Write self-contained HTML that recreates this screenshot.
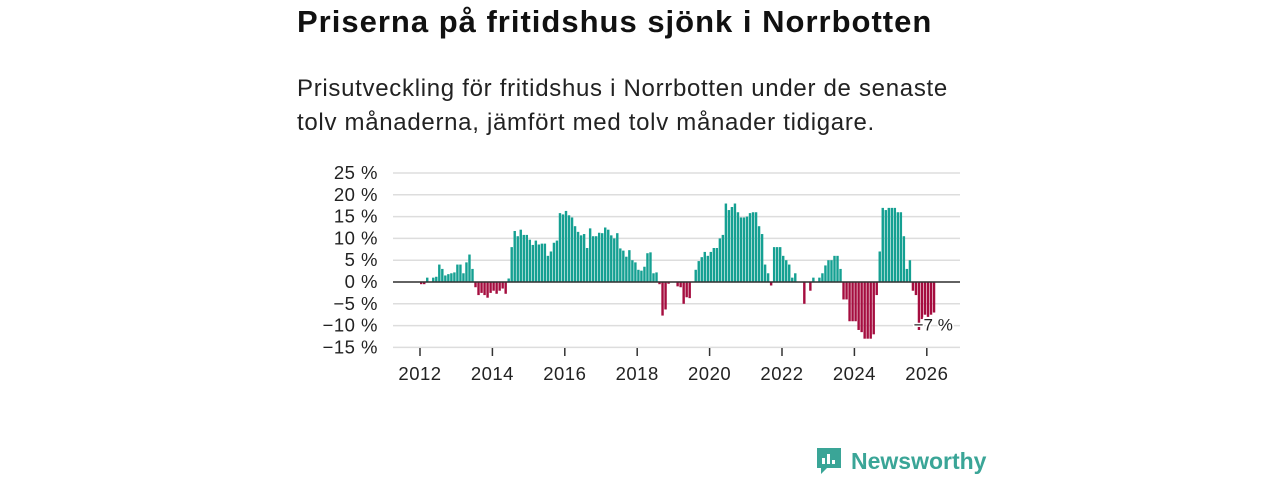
<!DOCTYPE html>
<html><head><meta charset="utf-8"><style>
body{margin:0;width:1280px;height:480px;background:#fff;font-family:"Liberation Sans",sans-serif;overflow:hidden;position:relative}
h1{position:absolute;left:297px;top:4px;margin:0;font-size:31px;letter-spacing:1px;font-weight:bold;color:#111;white-space:nowrap}
p.sub{position:absolute;left:297px;top:72px;margin:0;font-size:24px;letter-spacing:0.7px;line-height:34px;color:#222;width:700px}
svg{position:absolute;left:0;top:0}
.logo{position:absolute;left:815px;top:446px;display:flex;align-items:center;gap:8px;color:#3aa597;font-size:23px;font-weight:bold}
</style></head><body>
<h1>Priserna på fritidshus sjönk i Norrbotten</h1>
<p class="sub">Prisutveckling för fritidshus i Norrbotten under de senaste<br>tolv månaderna, jämfört med tolv månader tidigare.</p>
<svg id="chart" width="1280" height="480"></svg>
<div class="logo"><svg style="position:static" width="28" height="30" viewBox="0 0 28 30"><path d="M2 2h24v20H12l-6 6v-6H2z" fill="#3aa597"/><rect x="7" y="12" width="3" height="6" fill="#fff"/><rect x="12" y="8" width="3" height="10" fill="#fff"/><rect x="17" y="14" width="3" height="4" fill="#fff"/></svg><span>Newsworthy</span></div>
<script>
const values=[-0.5,-0.5,1,0,1,1.2,4,3,1.5,1.8,2,2.2,4,4,2,4.5,6.3,3,-1.2,-3,-2.5,-3,-3.6,-2.5,-2,-2.7,-2,-1.5,-2.7,0.8,8,11.7,10.5,12,10.8,10.8,9.7,8.5,9.5,8.6,8.8,8.8,6,7,9,9.5,15.8,15.5,16.3,15.3,14.8,12.8,11.5,10.7,
11,7.8,12.3,10.5,10.5,11.3,11.2,12.5,12,10.7,10,11.2,7.7,7.2,5.8,7.3,5,4.5,2.8,2.6,3.5,6.6,6.8,2,2.2,-0.5,-7.7,-6.3,-0.4,-0.1,0,-1,-1.2,-5,-3.5,-3.7,0,2.8,4.8,5.7,6.9,6,6.9,7.8,7.8,10,10.8,18,16.5,17.2,18,16,14.8,14.8,15,15.8,16,16,12.8,11,4,2,
-0.8,8,8,8,6,5,4,1,2,0,0,-5,0,-2,1,0,1,2,3.8,5,5,6,6,3,-4,-4,-9,-9,-9,-11,-11.5,-13,-13,-13,-12,-3,7,17,16.5,17,17,17,16,16,10.5,3,5,-2,-3,-11,-8.5,-7.5,-8,-7.5,-7];
const startYear=2012;
const yTicks=[25,20,15,10,5,0,-5,-10,-15];
const xTicks=[2012,2014,2016,2018,2020,2022,2024,2026];
const lastLabel="−7 %";
const NS="http://www.w3.org/2000/svg",svg=document.getElementById('chart');
const y=v=>282-v*21.8/5;
const x=t=>420+(t-2012)*36.2;
function mk(tag,a,txt){const e=document.createElementNS(NS,tag);for(const k in a)e.setAttribute(k,a[k]);if(txt!=null)e.textContent=txt;svg.appendChild(e);return e;}
yTicks.forEach(v=>{
 const g=mk('line',{x1:393,x2:960,y1:y(v),y2:y(v),stroke:'#ddd','stroke-width':1.5});
 
 
 const t=mk('text',{x:378,y:y(v)+6,'text-anchor':'end','font-size':18.5,'letter-spacing':0.5,fill:'#222'},(v<0?'−'+(-v):v)+' %');
 
 
});
values.forEach((v,i)=>{
 const x0=x(startYear+i/12),w=36.2/12;
 const r=mk('rect',{x:x0,y:Math.min(y(v),y(0)),width:w-0.6,height:Math.abs(y(v)-y(0)),fill:v>=0?'#15a092':'#a50d3f'});
 
 
});
const z=mk('line',{x1:393,x2:960,y1:y(0),y2:y(0),stroke:'#333','stroke-width':1.5});


xTicks.forEach(t=>{
 const l=mk('line',{x1:x(t),x2:x(t),y1:348,y2:356,stroke:'#333','stroke-width':1.5});
 
 
 const tx=mk('text',{x:x(t),y:380,'text-anchor':'middle','font-size':18.5,'letter-spacing':0.5,fill:'#222'},t);
 
 
});
const lb=mk('text',{x:x(startYear+(values.length-1)/12)+20,y:y(values[values.length-1])+18,'text-anchor':'end','font-size':17,fill:'#222',stroke:'#fff','stroke-width':3,'paint-order':'stroke'},lastLabel);


</script>
</body></html>
